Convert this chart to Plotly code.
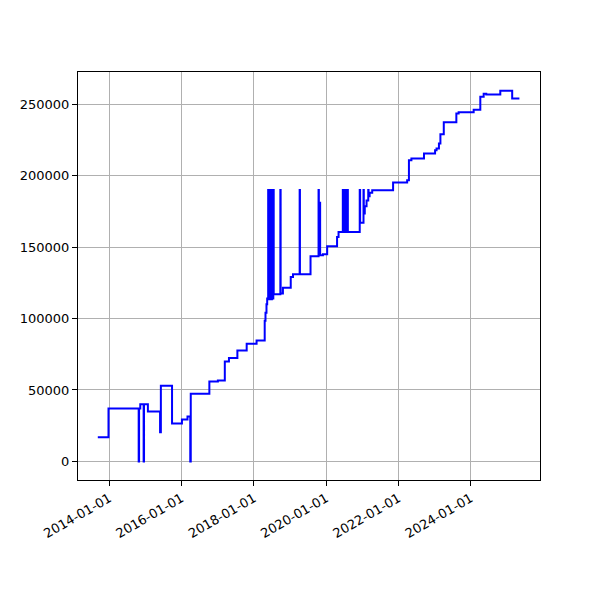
import plotly.graph_objects as go

dates = [
    "2013-09-07", "2013-12-24", "2014-10-25", "2014-10-29", "2014-11-10", "2014-12-14", "2014-12-18",
    "2015-01-26", "2015-05-29", "2015-06-06", "2015-09-27", "2016-01-05", "2016-03-01", "2016-03-29",
    "2016-04-03", "2016-10-08", "2017-01-02", "2017-03-13", "2017-04-24", "2017-07-18", "2017-10-20",
    "2018-01-28", "2018-04-20", "2018-04-28", "2018-05-08", "2018-05-15",
    "2018-05-25", "2018-05-29", "2018-06-01", "2018-06-04", "2018-06-07", "2018-06-10", "2018-06-13",
    "2018-06-16", "2018-06-19", "2018-06-22", "2018-06-25", "2018-06-28", "2018-07-02", "2018-07-05",
    "2018-07-09", "2018-07-12", "2018-07-16", "2018-07-20",
    "2018-09-25", "2018-09-28", "2018-10-21", "2019-01-08", "2019-01-31", "2019-04-08", "2019-04-11",
    "2019-07-27", "2019-10-16", "2019-10-19", "2019-10-29", "2019-11-01", "2019-11-29", "2020-01-11",
    "2020-04-20", "2020-05-05",
    "2020-06-17", "2020-06-20", "2020-06-24", "2020-06-27", "2020-07-01", "2020-07-04", "2020-07-08",
    "2020-07-11", "2020-07-15", "2020-07-18", "2020-07-22", "2020-07-25", "2020-07-29", "2020-08-01",
    "2020-08-04", "2020-08-07",
    "2020-12-05", "2020-12-09", "2021-01-12", "2021-01-15", "2021-01-25", "2021-02-12", "2021-03-01",
    "2021-03-04", "2021-03-15", "2021-04-10", "2021-11-07", "2022-03-29", "2022-04-16", "2022-05-11",
    "2022-09-15", "2023-01-05", "2023-01-20", "2023-02-13", "2023-02-28", "2023-04-03", "2023-08-08",
    "2023-08-31", "2024-01-30", "2024-04-06", "2024-05-10", "2024-06-05", "2024-10-25", "2025-02-22",
    "2025-05-06",
]

values = [
    17000, 37000, 0, 37000, 40000, 0, 40000,
    35000, 20500, 53000, 26500, 29300, 31500, 0,
    47400, 56000, 56700, 70000, 72300, 77700, 82400,
    84600, 98500, 104000, 110000, 114000,
    190000, 114000, 190000, 113500, 190000, 114000, 190000,
    113500, 190000, 114000, 190000, 113500, 190000, 114000,
    190000, 114000, 190000, 117000,
    190000, 117500, 121500, 129000, 131000, 190000, 131000,
    143600, 190000, 144300, 181000, 144300, 145000, 150600,
    157000, 160600,
    190000, 160600, 190000, 160600, 190000, 160600, 190000,
    160600, 190000, 160600, 190000, 160600, 190000, 160600,
    190000, 160600,
    190000, 167000, 190000, 173500, 178500, 182500, 190000,
    185500, 188000, 189800, 195200, 196800, 210800, 212000,
    215500, 217800, 219000, 222500, 229000, 237400, 243500,
    244400, 246000, 255100, 257200, 256800, 259400, 254000,
    254000,
]

x_tick_labels = ["2014-01-01", "2016-01-01", "2018-01-01", "2020-01-01", "2022-01-01", "2024-01-01"]
y_tick_values = [0, 50000, 100000, 150000, 200000, 250000]

fig = go.Figure()
fig.add_trace(go.Scatter(
    x=dates, y=values, mode="lines",
    line=dict(color="#0000ff", width=2, shape="hv"),
    showlegend=False,
))

axis_common = dict(
    showline=True, linecolor="black", linewidth=1, mirror=True,
    showgrid=True, gridcolor="#b0b0b0", gridwidth=1,
    ticks="outside", ticklen=5, tickcolor="black", tickwidth=1,
    tickfont=dict(family="DejaVu Sans", size=13, color="black"),
    zeroline=False,
)

fig.update_xaxes(
    type="date", range=["2013-02-19", "2025-11-30"],
    tickvals=x_tick_labels, ticktext=x_tick_labels, tickangle=-30,
    **axis_common,
)
fig.update_yaxes(
    range=[-13000, 272500],
    tickvals=y_tick_values, ticktext=[str(v) for v in y_tick_values],
    **axis_common,
)

fig.update_layout(
    width=600, height=600,
    margin=dict(l=67, r=68, t=64, b=128),
    plot_bgcolor="white", paper_bgcolor="white",
    font=dict(family="DejaVu Sans"),
)

fig.write_html("out.html")
